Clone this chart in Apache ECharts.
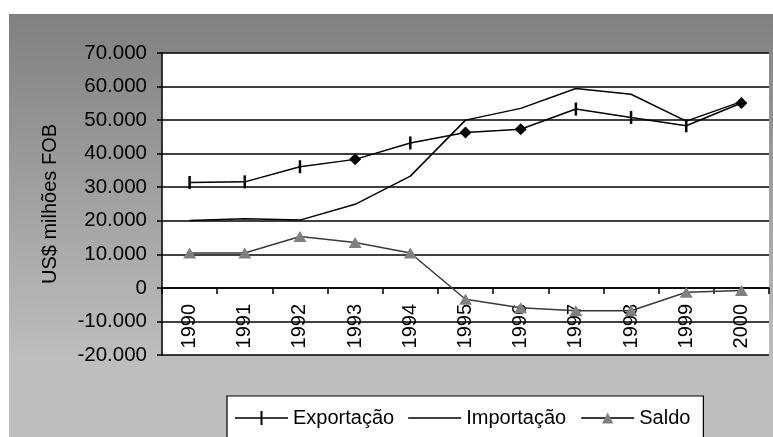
<!DOCTYPE html>
<html>
<head>
<meta charset="utf-8">
<script src="https://cdn.jsdelivr.net/npm/echarts@6/dist/echarts.min.js"></script>
<style>
  html, body {margin: 0; padding: 0; background: #fff;}
  #chart {width: 773px; height: 437px;}
</style>
</head>
<body>
<div id="chart"></div>
<script>
// Balança comercial, US$ milhões FOB
const years = ["1990", "1991", "1992", "1993", "1994", "1995", "1996", "1997", "1998", "1999", "2000"];
const exportacao = [31400, 31600, 36100, 38300, 43200, 46300, 47300, 53300, 50800, 48300, 55100];
const importacao = [20100, 20600, 20200, 24900, 33300, 50000, 53500, 59400, 57700, 49700, 55500];
const saldo = [10400, 10400, 15300, 13500, 10400, -3400, -5900, -6800, -6800, -1300, -800];
const yTicks = {min: -20000, max: 70000, step: 10000};
// points of Exportação drawn with a diamond instead of the tick mark
const diamondYears = ["1993", "1995", "1996", "2000"];

const font = "'Liberation Sans', Arial, sans-serif";

const fmtThousands = (v) => {
  const neg = v < 0;
  const s = String(Math.abs(v)).replace(/\B(?=(\d{3})+(?!\d))/g, ".");
  return (neg ? "-" : "") + s;
};

const chart = echarts.init(document.getElementById("chart"), null, {renderer: "canvas"});

const option = {
  animation: false,
  graphic: [{
    type: "rect",
    z: -10,
    silent: true,
    shape: {x: 9, y: 14, width: 764, height: 423},
    style: {
      fill: new echarts.graphic.LinearGradient(0, 0, 0, 1, [
        {offset: 0, color: "#808080"},
        {offset: 0.82, color: "#bebebe"},
        {offset: 1, color: "#bebebe"},
      ]),
    },
  }],
  grid: {
    left: 162, right: 4, top: 53, bottom: 82,
    show: true, backgroundColor: "#ffffff", borderWidth: 0,
  },
  legend: {
    left: 227, top: 396,
    padding: [12, 13, 20, 8],
    backgroundColor: "#ffffff",
    borderColor: "#000000",
    borderWidth: 1.2,
    borderRadius: 0,
    itemWidth: 53, itemHeight: 14, itemGap: 14,
    textStyle: {fontFamily: font, fontSize: 20, color: "#000"},
    data: [
      {name: "Exportação", icon: "path://M0,6.25H25.5V0H27.5V6.25H53V7.75H27.5V14H25.5V7.75H0Z"},
      {name: "Importação", icon: "path://M0,6.25H53V7.75H0Z"},
      {name: "Saldo"},
    ],
  },
  xAxis: {
    type: "category",
    data: years,
    boundaryGap: true,
    axisLine: {onZero: true, lineStyle: {color: "#000", width: 1.5}},
    axisTick: {show: true, length: 6, lineStyle: {color: "#000", width: 1.5}},
    axisLabel: {rotate: 90, margin: -51, fontFamily: font, fontSize: 20, color: "#000"},
    splitLine: {show: false},
  },
  yAxis: {
    type: "value",
    min: yTicks.min, max: yTicks.max, interval: yTicks.step,
    name: "US$ milhões FOB",
    nameLocation: "middle",
    nameGap: 102,
    nameTextStyle: {fontFamily: font, fontSize: 20, color: "#000"},
    axisLine: {show: true, lineStyle: {color: "#000", width: 1.5}},
    axisTick: {show: true, length: 5, lineStyle: {color: "#000", width: 1.5}},
    axisLabel: {margin: 15, fontFamily: font, fontSize: 20.5, color: "#000", formatter: fmtThousands},
    splitLine: {show: true, lineStyle: {color: "#000", width: 1.5}},
  },
  series: [
    {
      name: "Exportação",
      type: "line",
      data: exportacao.map((v, i) => diamondYears.includes(years[i])
        ? {value: v, symbol: "diamond", symbolSize: 12}
        : v),
      symbol: "rect",
      symbolSize: [2.5, 13],
      lineStyle: {color: "#000", width: 1.5},
      itemStyle: {color: "#000"},
      z: 4,
    },
    {
      name: "Importação",
      type: "line",
      data: importacao,
      symbol: "none",
      lineStyle: {color: "#000", width: 1.5},
      itemStyle: {color: "#000"},
      z: 3,
    },
    {
      name: "Saldo",
      type: "line",
      data: saldo,
      symbol: "triangle",
      symbolSize: [13, 11],
      lineStyle: {color: "#3a3a3a", width: 1.5},
      itemStyle: {color: "#808080"},
      z: 2,
    },
  ],
};

chart.setOption(option);
</script>
</body>
</html>
